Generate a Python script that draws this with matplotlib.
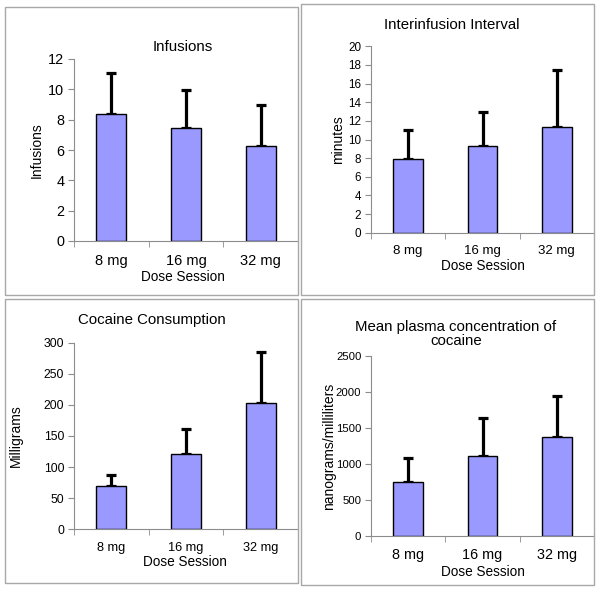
import matplotlib
matplotlib.use("Agg")
import matplotlib.pyplot as plt
from matplotlib.patches import Rectangle

plt.rcParams['font.family'] = ['Liberation Sans', 'DejaVu Sans']

W, H = 600, 589

doses = ["8 mg", "16 mg", "32 mg"]

inf_mean = [8.37, 7.47, 6.28]
inf_err = [2.73, 2.48, 2.66]

iii_mean = [7.88, 9.33, 11.37]
iii_err = [3.10, 3.67, 6.13]

coc_mean = [69, 120.5, 203.5]
coc_err = [19, 41.5, 81.5]

pla_mean = [746, 1107, 1370]
pla_err = [333, 527, 570]

panels = [
    dict(title="Infusions", ylabel="Infusions", mean=inf_mean, err=inf_err,
         ylim=(0, 12), yticks=[0, 2, 4, 6, 8, 10, 12],
         ax=(74, 298, 59, 241), box=(5, 298, 7, 295), xfs=10.5, yfs=10.4,
         title_xy=(183, 47), ylab_x=37, xlab_xy=(183, 277)),
    dict(title="Interinfusion Interval", ylabel="minutes", mean=iii_mean, err=iii_err,
         ylim=(0, 20), yticks=list(range(0, 21, 2)),
         ax=(371, 594, 46.3, 232.7), box=(301, 594, 4, 295), xfs=9.5, yfs=8.4,
         title_xy=(452, 25), ylab_x=338, xlab_xy=(483, 266)),
    dict(title="Cocaine Consumption", ylabel="Milligrams", mean=coc_mean, err=coc_err,
         ylim=(0, 300), yticks=[0, 50, 100, 150, 200, 250, 300],
         ax=(74, 298, 342.7, 529.3), box=(5, 298, 299, 583), xfs=9.2, yfs=8.8,
         title_xy=(152, 320), ylab_x=16, xlab_xy=(185, 562)),
    dict(title="Mean plasma concentration of\ncocaine", ylabel="nanograms/milliliters",
         mean=pla_mean, err=pla_err,
         ylim=(0, 2500), yticks=[0, 500, 1000, 1500, 2000, 2500],
         ax=(371, 594, 356, 536), box=(301, 594, 299, 585), xfs=10.4, yfs=8.2,
         title_xy=(456, 334), ylab_x=329, xlab_xy=(483, 572)),
]

fig = plt.figure(figsize=(W / 100, H / 100), dpi=100)
fig.patch.set_facecolor("white")

axis_gray = "#8c8c8c"

for p in panels:
    bx0, bx1, by0, by1 = p["box"]
    fig.patches.append(Rectangle((bx0 / W, 1 - by1 / H), (bx1 - bx0) / W, (by1 - by0) / H,
                                 transform=fig.transFigure, fill=False,
                                 edgecolor="#a8a8a8", linewidth=1.0))
    x0, x1, y0, y1 = p["ax"]
    ax = fig.add_axes([x0 / W, 1 - y1 / H, (x1 - x0) / W, (y1 - y0) / H])
    ax.set_facecolor("none")
    pos = [0.5, 1.5, 2.5]
    ax.bar(pos, p["mean"], width=0.4, color="#9999ff", edgecolor="black",
           linewidth=1.0, zorder=2)
    ax.errorbar(pos, p["mean"], yerr=[[0, 0, 0], p["err"]], fmt="none",
                ecolor="black", elinewidth=2.3, capsize=3.5, capthick=2.3, zorder=1)
    ax.set_xlim(0, 3)
    ax.set_ylim(*p["ylim"])
    ax.set_yticks(p["yticks"])
    ax.set_xticks(pos)
    ax.set_xticklabels(doses)
    ax.set_xticks([0, 1, 2, 3], minor=True)
    ax.tick_params(axis="x", which="major", length=0, labelsize=p["xfs"], pad=9)
    ax.tick_params(axis="x", which="minor", length=4, color=axis_gray, direction="out")
    ax.tick_params(axis="y", length=4, color=axis_gray, labelsize=p["yfs"], pad=3)
    for s in ["top", "right"]:
        ax.spines[s].set_visible(False)
    for s in ["left", "bottom"]:
        ax.spines[s].set_color(axis_gray)
        ax.spines[s].set_linewidth(0.8)
    tx, ty = p["title_xy"]
    fig.text(tx / W, 1 - ty / H, p["title"], ha="center", va="center",
             fontsize=10.8, linespacing=1.0)
    fig.text(p["ylab_x"] / W, 1 - ((y0 + y1) / 2) / H, p["ylabel"], rotation=90,
             ha="center", va="center", fontsize=10)
    lx, ly = p["xlab_xy"]
    fig.text(lx / W, 1 - ly / H, "Dose Session", ha="center", va="center", fontsize=9.8)

fig.savefig("out.png", dpi=100)
